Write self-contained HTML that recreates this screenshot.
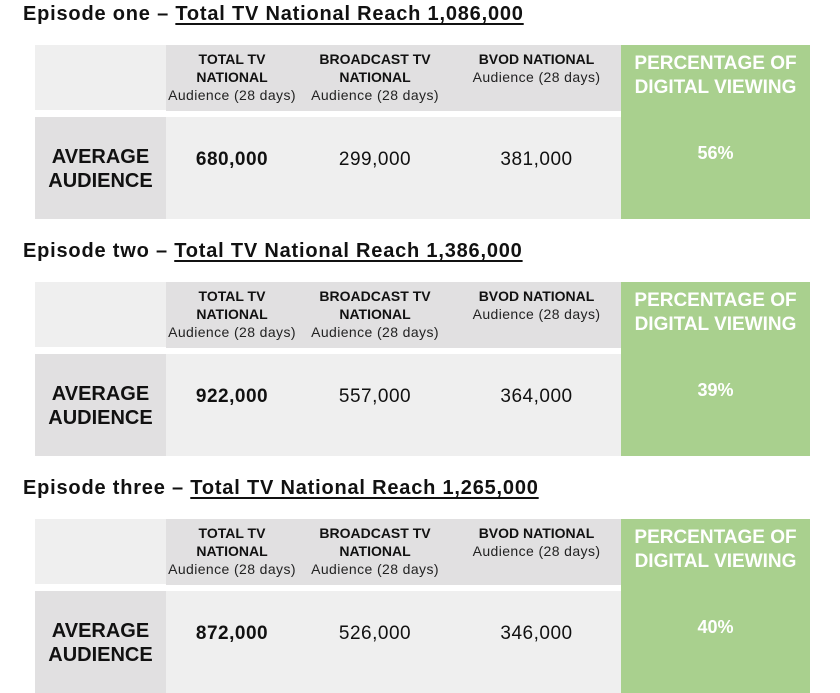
<!DOCTYPE html><html><head><style>
body{margin:0;width:840px;height:693px;background:#fff;font-family:"Liberation Sans",sans-serif;position:relative;overflow:hidden}
.t{position:absolute;left:23px;font-size:20px;font-weight:bold;color:#111;letter-spacing:0.8px}
.t u{text-decoration-thickness:2px;text-underline-offset:3px}
.b{position:absolute;left:35px;width:775px;height:174px}
.c{position:absolute;display:flex;flex-direction:column;align-items:center;text-align:center;color:#111}
.h{font-size:14px;font-weight:bold;line-height:18px}
.s{font-size:14px;line-height:18px;color:#222;letter-spacing:0.4px}
.n{font-size:19px;letter-spacing:0.5px}
</style></head><body>
<script>
var d=[["Episode one","1,086,000","680,000","299,000","381,000","56%"],["Episode two","1,386,000","922,000","557,000","364,000","39%"],["Episode three","1,265,000","872,000","526,000","346,000","40%"]];
var h="";
d.forEach(function(e,i){var y=i*237;
h+='<div class="t" style="top:'+(3+y)+'px">'+e[0]+' – <u>Total TV National Reach '+e[1]+'</u></div>';
h+='<div class="b" style="top:'+(45+y)+'px">'+
'<div style="position:absolute;left:0;top:0;width:131px;height:65px;background:#efefef"></div>'+
'<div style="position:absolute;left:131px;top:0;width:455px;height:66px;background:#e1e0e1"></div>'+
'<div style="position:absolute;left:0;top:72px;width:131px;height:102px;background:#e1e0e1"></div>'+
'<div style="position:absolute;left:131px;top:72px;width:455px;height:102px;background:#efefef"></div>'+
'<div style="position:absolute;left:586px;top:0;width:189px;height:174px;background:#a9d08e"></div>'+
'<div class="c" style="left:131px;width:132px;top:5px"><span class="h">TOTAL TV<br>NATIONAL</span><span class="s">Audience (28 days)</span></div>'+
'<div class="c" style="left:263px;width:154px;top:5px"><span class="h">BROADCAST TV<br>NATIONAL</span><span class="s">Audience (28 days)</span></div>'+
'<div class="c" style="left:417px;width:169px;top:5px"><span class="h">BVOD NATIONAL</span><span class="s">Audience (28 days)</span></div>'+
'<div class="c" style="left:586px;width:189px;top:7px;color:#fff;font-weight:bold;font-size:19px;line-height:24px">PERCENTAGE OF<br>DIGITAL VIEWING</div>'+
'<div class="c" style="left:0;width:131px;top:100px;font-weight:bold;font-size:20px;line-height:24px">AVERAGE<br>AUDIENCE</div>'+
'<div class="c n" style="left:131px;width:132px;top:104px;font-weight:bold">'+e[2]+'</div>'+
'<div class="c n" style="left:263px;width:154px;top:104px">'+e[3]+'</div>'+
'<div class="c n" style="left:417px;width:169px;top:104px">'+e[4]+'</div>'+
'<div class="c" style="left:586px;width:189px;top:98px;color:#fff;font-weight:bold;font-size:18px">'+e[5]+'</div>'+
'</div>';});
document.write(h);
</script>
</body></html>
